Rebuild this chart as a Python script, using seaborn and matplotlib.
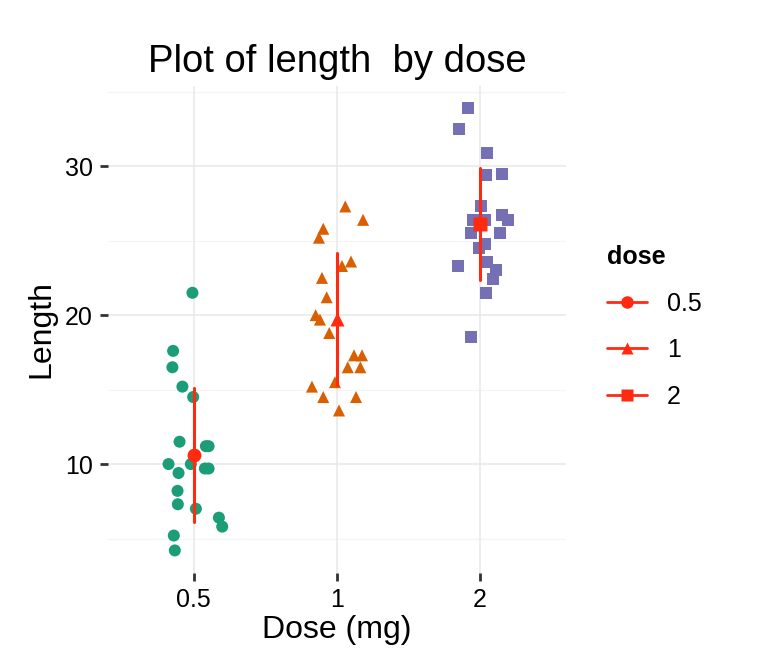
import numpy as np
import pandas as pd
import matplotlib
matplotlib.use('Agg')
import matplotlib.pyplot as plt
from matplotlib.lines import Line2D
import seaborn as sns

# Values (ToothGrowth style data)
doses = ['0.5', '1', '2']
len_05 = [21.5, 17.6, 16.5, 15.2, 14.5, 11.5, 11.2, 11.2, 10.0, 10.0,
          9.4, 9.7, 9.7, 8.2, 7.3, 7.0, 6.4, 5.8, 5.2, 4.2]
len_1 = [27.3, 26.4, 25.8, 25.2, 23.6, 23.3, 22.5, 21.2, 20.0, 19.7,
         18.8, 17.3, 17.3, 16.5, 16.5, 15.5, 15.2, 14.5, 14.5, 13.6]
len_2 = [33.9, 32.5, 30.9, 29.4, 29.5, 27.3, 26.7, 26.4, 26.4, 26.4,
         25.5, 25.5, 24.8, 24.5, 23.3, 23.6, 23.0, 22.4, 21.5, 18.5]
# horizontal jitter of each point (fraction of a category step)
jit_05 = [-0.01, -0.145, -0.15, -0.08, -0.005, -0.10, 0.084, 0.103, -0.177, -0.021,
          -0.107, 0.077, 0.103, -0.114, -0.112, 0.014, 0.175, 0.198, -0.14, -0.133]
jit_1 = [0.058, 0.182, -0.096, -0.126, 0.098, 0.035, -0.105, -0.072, -0.149, -0.119,
         -0.054, 0.119, 0.175, 0.075, 0.163, -0.014, -0.175, -0.096, 0.133, 0.014]
jit_2 = [-0.082, -0.149, 0.051, 0.040, 0.156, 0.009, 0.152, 0.194, -0.047, 0.035,
         -0.065, 0.14, 0.037, -0.005, -0.152, 0.047, 0.112, 0.093, 0.042, -0.063]

colors = ['#1B9E77', '#D95F02', '#7570B3']
markers = ['o', '^', 's']
mean_color = '#FF2A0F'

rows = []
for i, (d, vals, jit) in enumerate(zip(doses, [len_05, len_1, len_2], [jit_05, jit_1, jit_2])):
    for v, j in zip(vals, jit):
        rows.append({'dose': d, 'len': v, 'xpos': i + j})
df = pd.DataFrame(rows)

sns.set_style('white')
plt.rcParams['font.family'] = ['Liberation Sans', 'DejaVu Sans']
plt.rcParams['text.color'] = 'black'
plt.rcParams['axes.labelcolor'] = 'black'

fig = plt.figure(figsize=(7.68, 6.72), dpi=100)
ax = fig.add_axes([0.1406, 0.148, 0.5964, 0.724])

# grid
for y in [5, 15, 25, 35]:
    ax.axhline(y, color='#F4F4F4', lw=0.8, zorder=0)
for y in [10, 20, 30]:
    ax.axhline(y, color='#E8E8E8', lw=1.1, zorder=0)
for x in [0, 1, 2]:
    ax.axvline(x, color='#E8E8E8', lw=1.1, zorder=0)

sns.scatterplot(data=df, x='xpos', y='len', hue='dose', style='dose',
                palette=colors, markers=dict(zip(doses, markers)),
                s=75, edgecolor='none', legend=False, ax=ax, zorder=2)

# mean +/- sd
for i, d in enumerate(doses):
    v = df.loc[df['dose'] == d, 'len']
    m, sd = v.mean(), v.std()
    ax.plot([i, i], [m - sd, m + sd], color=mean_color, lw=2.2, zorder=3)
    ax.plot(i, m, marker=markers[i], color=mean_color, ms=10, mec='none', zorder=4)

ax.set_xlim(-0.6, 2.6)
ax.set_ylim(2.715, 35.385)
ax.set_xticks([0, 1, 2])
ax.set_xticklabels(doses)
ax.set_yticks([10, 20, 30])
for s in ax.spines.values():
    s.set_visible(False)
ax.tick_params(axis='both', bottom=True, left=True, length=6, width=2,
               color='#333333', labelsize=18, pad=5, labelcolor='black')

ax.set_xlabel('Dose (mg)', fontsize=23, labelpad=2, color='black')
ax.set_ylabel('Length', fontsize=23, labelpad=6, color='black')
ax.set_title('Plot of length  by dose', fontsize=27.5, pad=10, color='black')

handles = [Line2D([0], [0], color=mean_color, lw=2, marker=mk, ms=9, mec='none')
           for mk in markers]
leg = ax.legend(handles, doses, title='dose', loc='center left',
                bbox_to_anchor=(1.04, 0.505), frameon=False, fontsize=18,
                title_fontsize=18, handlelength=1.6, labelspacing=0.9,
                alignment='left')
leg.get_title().set_fontweight('bold')
for t in leg.get_texts():
    t.set_color('black')

fig.savefig('out.png', dpi=100)
